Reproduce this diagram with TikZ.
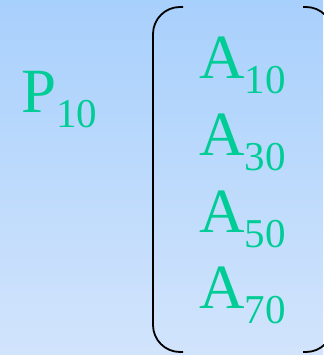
\documentclass[tikz,border=0pt]{standalone}
\usepackage{fontspec}
\setmainfont{Liberation Serif}
\definecolor{symgreen}{RGB}{0,204,150}
\definecolor{bgtop}{RGB}{168,208,252}
\definecolor{bgbottom}{RGB}{210,228,252}
\newcommand{\lowsub}[1]{\raisebox{-15pt}{\fontsize{41}{41}\selectfont #1}}
\begin{document}
\begin{tikzpicture}[
        x=1pt, y=-1pt,
        % --- Text styles ---
        symbol/.style={
            anchor=base west, inner sep=0pt, text=symgreen,
            font=\fontsize{63}{63}\selectfont
        },
        bracket/.style={line width=1.8pt, rounded corners=27pt},
    ]

    % ===== Background =====
    \shade[top color=bgtop, bottom color=bgbottom] (0,0) rectangle (323,355);
    \useasboundingbox (0,0) rectangle (323,355);

    % ===== Left symbol =====
    \node[symbol] (p10) at (21,113) {P\lowsub{10}};

    % ===== Column of symbols =====
    \node[symbol] (a10) at (199,79)  {A\lowsub{10}};
    \node[symbol] (a30) at (199,156) {A\lowsub{30}};
    \node[symbol] (a50) at (199,232) {A\lowsub{50}};
    \node[symbol] (a70) at (199,308) {A\lowsub{70}};

    % ===== Brackets =====
    \draw[bracket] (183,7) -- (153,7) -- (153,352) -- (183,352);
    \draw[bracket] (303,7) -- (333,7) -- (333,352) -- (303,352);

\end{tikzpicture}
\end{document}
